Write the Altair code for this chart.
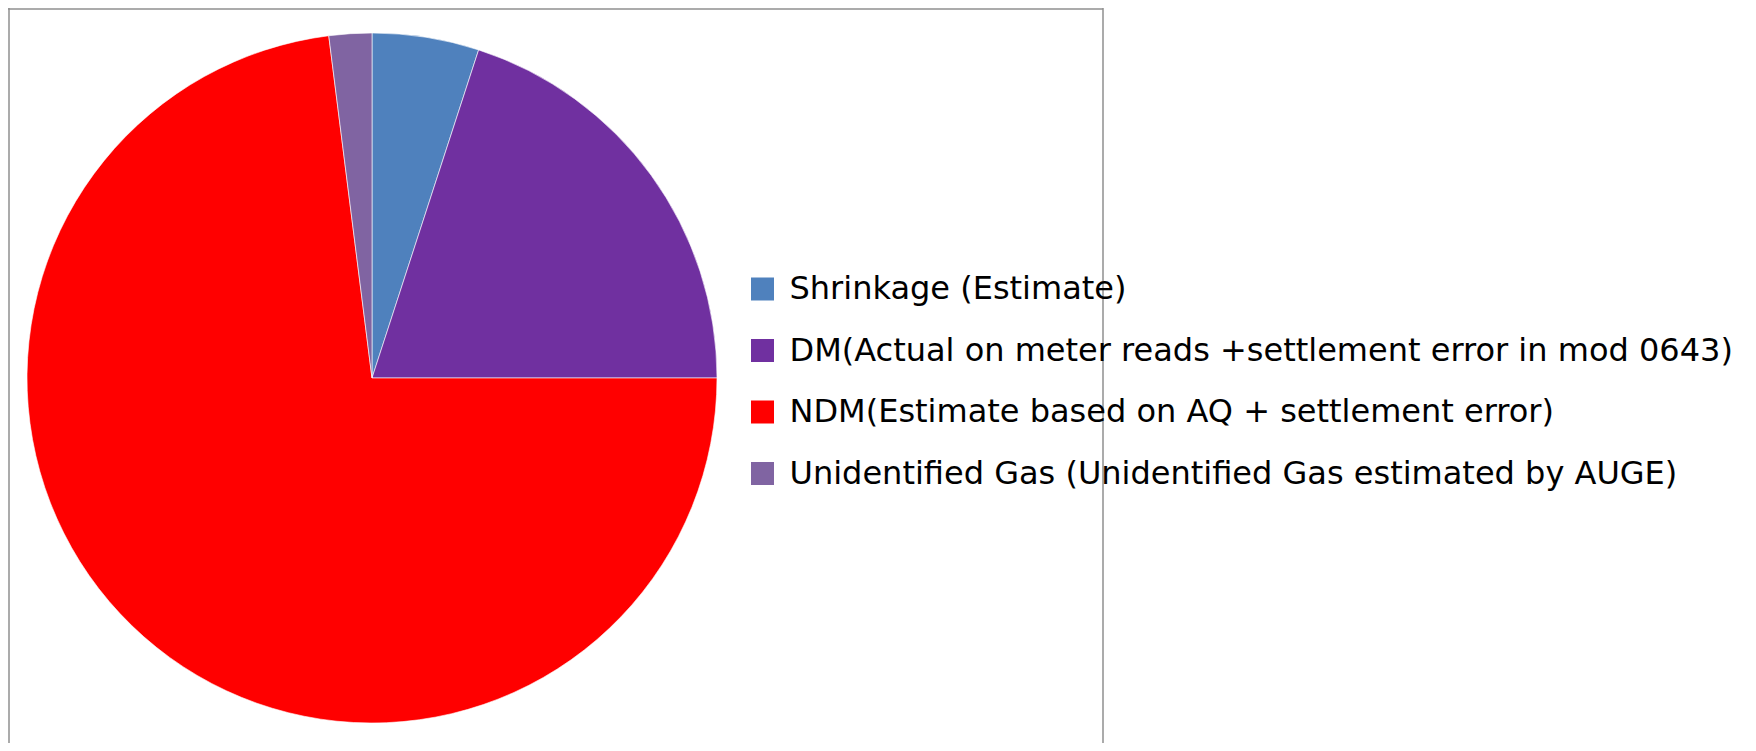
import altair as alt
import pandas as pd

categories = [
    "Shrinkage (Estimate)",
    "DM(Actual on meter reads +settlement error in mod 0643)",
    "NDM(Estimate based on AQ + settlement error)",
    "Unidentified Gas (Unidentified Gas estimated by AUGE)",
]
values = [5.0, 20.0, 73.0, 2.0]
colors = ["#4F81BD", "#7030A0", "#FF0000", "#8064A2"]

df = pd.DataFrame({"category": categories, "value": values, "idx": list(range(len(categories)))})
frame_df = pd.DataFrame({"k": [0]})

W, H = 1740, 735

pie = alt.Chart(df).mark_arc(radius=345, stroke="#ffffff", strokeWidth=0.6).encode(
    theta=alt.Theta("value:Q", stack=True),
    order=alt.Order("idx:Q"),
    x=alt.value(364),
    y=alt.value(370),
    color=alt.Color(
        "category:N",
        scale=alt.Scale(domain=categories, range=colors),
        sort=categories,
        legend=alt.Legend(
            title=None,
            orient="none",
            legendX=738.5,
            legendY=265,
            symbolType="square",
            symbolSize=529,
            symbolStrokeWidth=0,
            labelFont="DejaVu Sans",
            labelFontSize=32,
            labelColor="#000000",
            labelLimit=2000,
            labelOffset=11,
            rowPadding=29.5,
            padding=0,
        ),
    ),
)

frame_color = "#8f8f8f"
left = alt.Chart(frame_df).mark_rule(color=frame_color, strokeWidth=1.5).encode(
    x=alt.value(1), y=alt.value(0), y2=alt.value(H)
)
top = alt.Chart(frame_df).mark_rule(color=frame_color, strokeWidth=1.5).encode(
    x=alt.value(0), x2=alt.value(1095), y=alt.value(1)
)
right = alt.Chart(frame_df).mark_rule(color=frame_color, strokeWidth=1.5).encode(
    x=alt.value(1095), y=alt.value(0), y2=alt.value(H)
)

chart = alt.layer(pie, left, top, right).properties(
    width=W, height=H, autosize=alt.AutoSizeParams(type="none"), padding=0
).configure_view(stroke=None)

chart.save("out.html", embed_options={"renderer": "svg", "actions": False})
